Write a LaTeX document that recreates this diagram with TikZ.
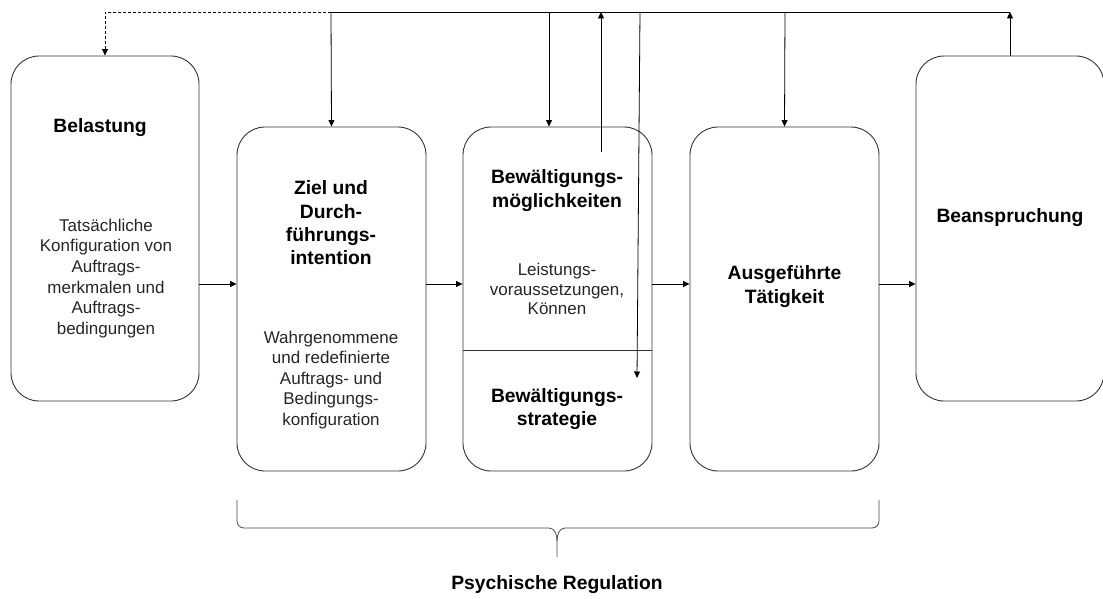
\documentclass[tikz,border=0pt]{standalone}
\usepackage{fontspec}
\setmainfont{Liberation Sans}
\usetikzlibrary{arrows.meta}
\begin{document}
\begin{tikzpicture}[x=1pt,y=-1pt,
  box/.style={draw=black!80,line width=0.9pt,rounded corners=28pt,minimum width=189pt,
    minimum height=344pt,inner sep=0pt,fill=white},
  ttl/.style={font=\fontsize{19.3}{23.3}\selectfont\bfseries,align=center,inner sep=0pt},
  txt/.style={font=\fontsize{17}{20.6}\selectfont,align=center,text=black!85,inner sep=0pt},
  ln/.style={line width=0.8pt},
  arr/.style={line width=0.8pt,-{Triangle[length=6.5pt,width=6pt]}},
  brc/.style={line width=0.8pt,draw=black!70},
]
\fill[white] (0,0) rectangle (1103,599);
\useasboundingbox (0,0) rectangle (1103,599);

% the five stages
\node[box,minimum width=188pt,minimum height=345pt] (b1) at (105,228.5) {};
\node[box] (b2) at (331.5,299) {};
\node[box] (b3) at (557.5,299) {};
\node[box] (b4) at (784.5,299) {};
\node[box,minimum width=188pt,minimum height=345pt] (b5) at (1010,228.5) {};
\draw[line width=0.9pt,black!80] (b3.west |- 0,350) -- (b3.east |- 0,350);

% texts
\node[ttl] (t1) at (100,128) {Belastung};
\node[txt] (d1) at (106,278.5) {Tatsächliche\\Konfiguration von\\Auftrags-\\merkmalen und\\Auftrags-\\bedingungen};
\node[ttl] (t2) at (331,223) {Ziel und\\Durch-\\führungs-\\intention};
\node[txt] (d2) at (331,380) {Wahrgenommene\\und redefinierte\\Auftrags- und\\Bedingungs-\\konfiguration};
\node[ttl] (t3) at (557,190.5) {Bewältigungs-\\möglichkeiten};
\node[txt,font=\fontsize{17}{19.5}\selectfont] (d3) at (557,289) {Leistungs-\\voraussetzungen,\\Können};
\node[ttl] (t3b) at (557,409) {Bewältigungs-\\strategie};
\node[ttl] (t4) at (784.5,286.5) {Ausgeführte\\Tätigkeit};
\node[ttl] (t5) at (1010,218) {Beanspruchung};

% feedback bus along the top
\coordinate (bus1) at (105,12);
\coordinate (bus2) at (331,12);
\coordinate (bus3) at (549,12);
\coordinate (bus4) at (601,12);
\coordinate (bus5) at (640,12);
\coordinate (bus6) at (785,12);
\coordinate (bus7) at (1010,12);
\coordinate (s4) at (601,152);
\coordinate (e5) at (637,378);

\draw[arr,dash pattern=on 3pt off 2pt] (bus2) -- (bus1) -- (b1.north);
\draw[ln] (bus2) -- (bus7);
\draw[arr] (bus2) -- (b2.north);
\draw[arr] (bus3) -- (b3.north -| bus3);
\draw[arr] (s4) -- (bus4);
\draw[arr] (bus5) -- (e5);
\draw[arr] (bus6) -- (b4.north);
\draw[arr] (b5.north) -- (bus7);

% flow between the stages
\draw[arr] (b1.east |- 0,284) -- (b2.west |- 0,284);
\draw[arr] (b2.east |- 0,284) -- (b3.west |- 0,284);
\draw[arr] (b3.east |- 0,284) -- (b4.west |- 0,284);
\draw[arr] (b4.east |- 0,284) -- (b5.west |- 0,284);

% brace under the regulation stages
\draw[brc] (237,500) -- (237,521) to[out=-90,in=180] (244,528) -- (549,528)
  to[out=0,in=90] (557,541) -- (557,557);
\draw[brc] (879,500) -- (879,521) to[out=-90,in=0] (872,528) -- (565,528)
  to[out=180,in=90] (557,541);
\node[ttl] (lbl) at (557,585) {Psychische Regulation};
\end{tikzpicture}
\end{document}
